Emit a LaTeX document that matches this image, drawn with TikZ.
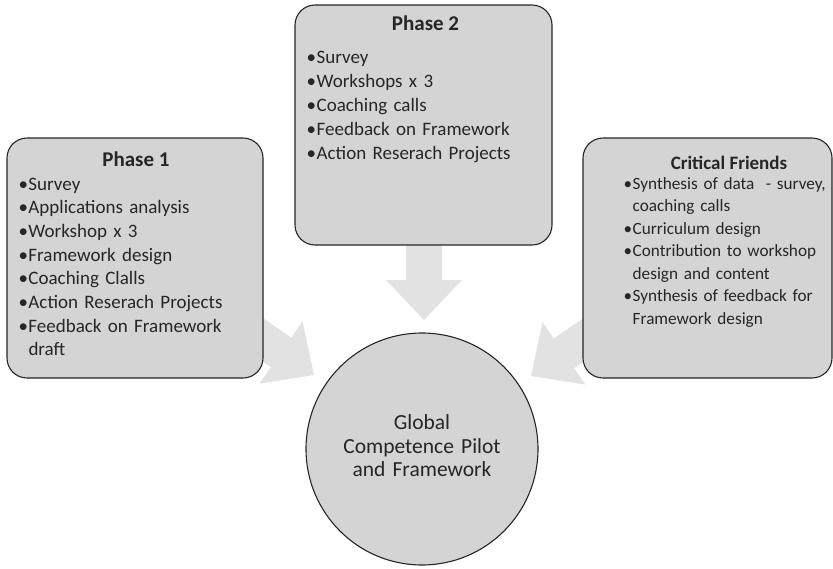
\documentclass[tikz,border=0pt]{standalone}
\usepackage{fontspec}
\setmainfont{Carlito}
\definecolor{boxgrey}{RGB}{212,212,212}
\definecolor{arrowgrey}{RGB}{226,226,226}
\definecolor{ink}{RGB}{38,38,38}
\hyphenpenalty=10000
\newcommand\bitem[2][10pt]{\hangindent=#1\hangafter=1\noindent\makebox[#1][l]{•}#2\par}
\begin{document}
\begin{tikzpicture}[x=1pt,y=-1pt,
  panel/.style={draw=ink, line width=1.1pt, fill=boxgrey, rounded corners=20pt, inner sep=0pt},
  blockarrow/.style={fill=arrowgrey, draw=none},
  titletext/.style={font=\bfseries\fontsize{21}{24}\selectfont, text=ink, anchor=base, inner sep=0pt},
  listtext/.style={anchor=base west, inner sep=0pt, text=ink, align=left, text width=#1},
]
\useasboundingbox (0,0) rectangle (833,568);

% block arrows (behind everything)
\begin{scope}[shift={(424,320)}, rotate=-90]
  \fill[blockarrow] (0,0) -- (-40,38) -- (-40,18) -- (-90,18) -- (-90,-18) -- (-40,-18) -- (-40,-38) -- cycle;
\end{scope}
\begin{scope}[shift={(314,375)}, rotate=-34.5]
  \fill[blockarrow] (0,0) -- (-40,38) -- (-40,18) -- (-100,18) -- (-100,-18) -- (-40,-18) -- (-40,-38) -- cycle;
\end{scope}
\begin{scope}[shift={(531,376)}, rotate=214.5]
  \fill[blockarrow] (0,0) -- (-40,38) -- (-40,18) -- (-100,18) -- (-100,-18) -- (-40,-18) -- (-40,-38) -- cycle;
\end{scope}

% panels
\node[panel, minimum width=256pt, minimum height=240pt] (p1) at (135,258) {};
\node[panel, minimum width=257pt, minimum height=240pt] (p2) at (423.5,125) {};
\node[panel, minimum width=249pt, minimum height=240pt] (cf) at (707.5,258) {};
\node[draw=ink, line width=1.1pt, fill=boxgrey, circle, minimum size=232pt, inner sep=0pt] (goal) at (422,449) {};

% titles
\node[titletext] (p1title) at (136,166.5) {Phase 1};
\node[titletext] (p2title) at (425.5,30.7) {Phase 2};
\node[titletext, font=\bfseries\fontsize{19}{22}\selectfont] (cftitle) at (729,169) {Critical Friends};

% lists
\node[listtext=240pt, font=\fontsize{19}{23.7}\selectfont] (p1list) at (18.3,190) {%
\bitem{Survey}\bitem{Applications analysis}\bitem{Workshop x 3}\bitem{Framework design}%
\bitem{Coaching Clalls}\bitem{Action Reserach Projects}\bitem{Feedback on Framework\newline draft}};

\node[listtext=240pt, font=\fontsize{19}{24}\selectfont] (p2list) at (306.5,63) {%
\bitem{Survey}\bitem{Workshops x 3}\bitem{Coaching calls}\bitem{Feedback on Framework}%
\bitem{Action Reserach Projects}};

\node[listtext=240pt, font=\fontsize{17.2}{22.5}\selectfont] (cflist) at (623.5,189) {%
\bitem[9pt]{Synthesis of data~ - survey,\newline coaching calls}\bitem[9pt]{Curriculum design}%
\bitem[9pt]{Contribution to workshop\newline design and content}%
\bitem[9pt]{Synthesis of feedback for\newline Framework design}};

% circle text
\node[anchor=base, inner sep=0pt, text=ink, align=center, text width=220pt,
      font=\fontsize{21.5}{23.8}\selectfont] (goaltext) at (422,429.3)
  {Global\\Competence Pilot\\and Framework};
\end{tikzpicture}
\end{document}
